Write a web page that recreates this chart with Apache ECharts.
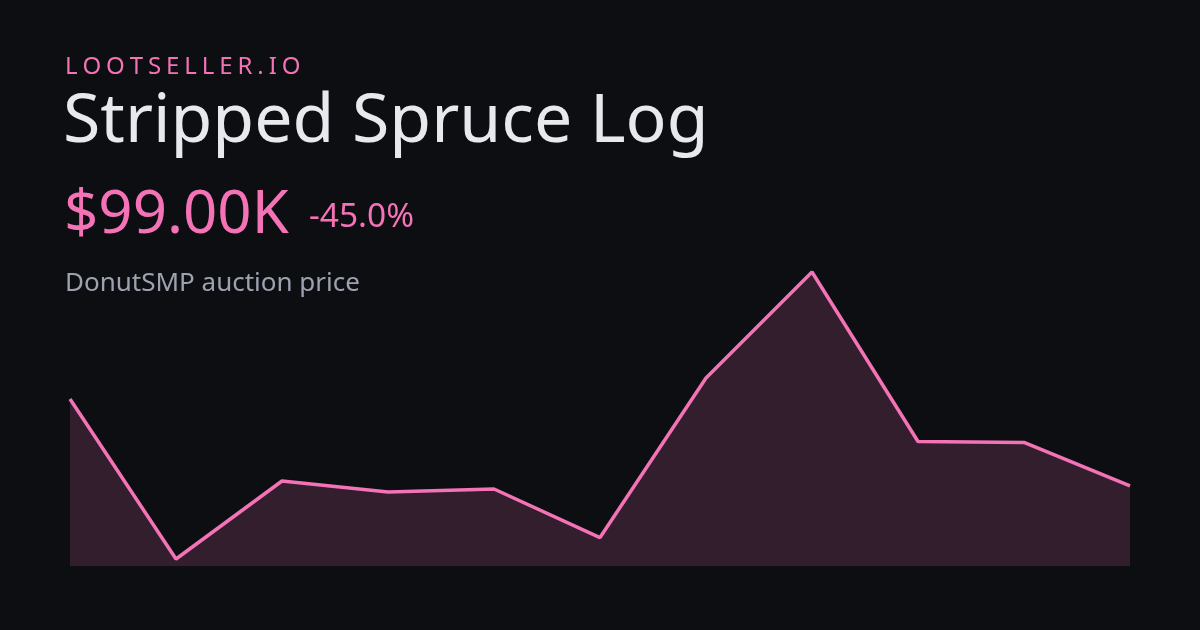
<!DOCTYPE html>
<html><head><meta charset="utf-8">
<script src="https://cdn.jsdelivr.net/npm/echarts@6/dist/echarts.min.js"></script>
<style>html,body{margin:0;padding:0;background:#0d0e12;}#c{width:1200px;height:630px;}</style>
</head><body><div id="c"></div>
<script>
const brand = 'LOOTSELLER.IO';
const itemName = 'Stripped Spruce Log';
const priceLabel = '$99.00K';
const changeLabel = '-45.0%';
const subtitle = 'DonutSMP auction price';
const days = ['1','2','3','4','5','6','7','8','9','10','11'];
const prices = [180, 31, 103.6, 93.4, 96.2, 51, 199.5, 298.2, 140.4, 139.5, 99];

const FONT = '"Noto Sans", "Open Sans", sans-serif';
const PINK = '#f472b6';

// letter-spaced brand text
const ctx = document.createElement('canvas').getContext('2d');
const brandSize = 24, spacing = 4.9;
ctx.font = brandSize + 'px ' + FONT;
const brandEls = [];
let bx = 65;
for (const ch of brand) {
  brandEls.push({type:'text', left: bx, top: 55, style:{text: ch, fill: PINK, font: brandSize + 'px ' + FONT}});
  bx += ctx.measureText(ch).width + spacing;
}

const chart = echarts.init(document.getElementById('c'), null, {renderer:'canvas'});
chart.setOption({
  backgroundColor: '#0d0e12',
  animation: false,
  grid: {left: 70, right: 70, top: 272, bottom: 64},
  xAxis: {type:'category', data: days, boundaryGap: false, show: false},
  yAxis: {type:'value', min: 24.5, max: 298.2, show: false},
  series: [{
    type: 'line', data: prices, symbol: 'none', clip: false,
    lineStyle: {color: PINK, width: 3.5},
    areaStyle: {color: PINK, opacity: 0.17}
  }],
  graphic: brandEls.concat([
    {type:'text', left: 63, top: 89, style:{text: itemName, fill:'#e8e9ee', font: '68px ' + FONT}},
    {type:'text', left: 64, top: 186, style:{text: priceLabel, fill: PINK, font: '60px ' + FONT}},
    {type:'text', left: 309, top: 200, style:{text: changeLabel, fill: PINK, font: '33.5px ' + FONT}},
    {type:'text', left: 65, top: 271, style:{text: subtitle, fill:'#9ca3af', font: '26px ' + FONT}}
  ])
});
</script></body></html>
